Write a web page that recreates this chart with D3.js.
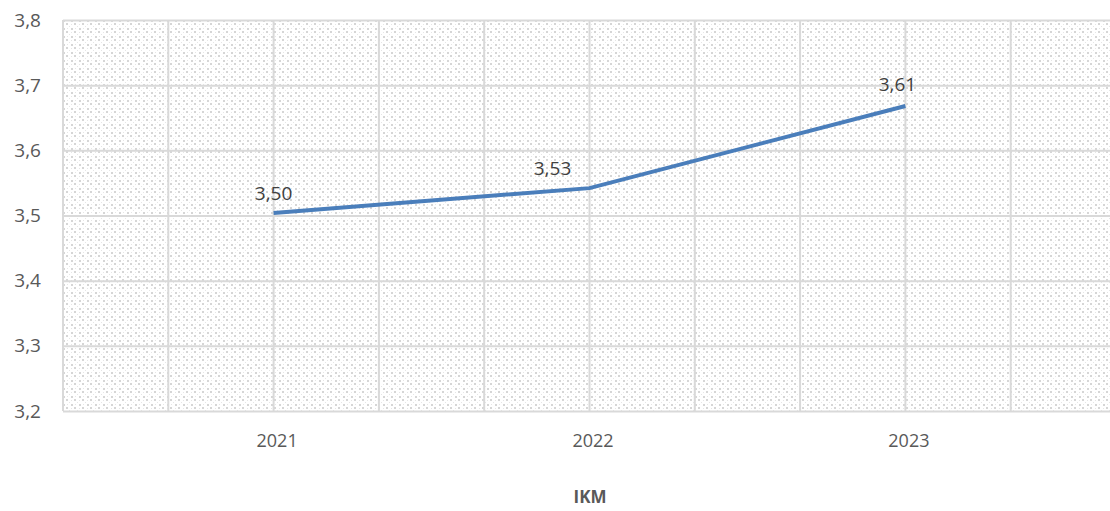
<!DOCTYPE html>
<html>
<head>
<meta charset="utf-8">
<script src="https://cdn.jsdelivr.net/npm/d3@7"></script>
<style>
  body { margin: 0; background: #fff; }
  text { font-family: "Open Sans", "Noto Sans", sans-serif; }
</style>
</head>
<body>
<script>
// data
var years = ["2021", "2022", "2023"];
var ikm = [3.504, 3.542, 3.668];
var ikmLabels = ["3,50", "3,53", "3,61"];
var yTicks = [3.2, 3.3, 3.4, 3.5, 3.6, 3.7, 3.8];

var W = 1110, H = 511;
var margin = { top: 20, right: -6, bottom: 100, left: 63 },
  width = W - margin.left - margin.right,
  height = H - margin.top - margin.bottom;

var svg = d3.select("body").append("svg")
  .attr("width", W)
  .attr("height", H);

// dotted diagonal fill like the excel pattern
var pat = svg.append("defs").append("pattern")
  .attr("id", "dots")
  .attr("patternUnits", "userSpaceOnUse")
  .attr("width", 8).attr("height", 8);
pat.append("rect").attr("width", 8).attr("height", 8).attr("fill", "#fff");
[[0, 0], [3, 3]].forEach(function (p) {
  pat.append("rect")
    .attr("x", p[0]).attr("y", p[1])
    .attr("width", 2).attr("height", 2)
    .attr("fill", "#d6d6d6");
});
[[6, 6], [4, 0], [0, 4]].forEach(function (p) {
  pat.append("rect")
    .attr("x", p[0]).attr("y", p[1])
    .attr("width", 1).attr("height", 1)
    .attr("fill", "#e6e6e6");
});

var g = svg.append("g")
  .attr("transform", "translate(" + margin.left + "," + margin.top + ")");

// category index scale, gridlines every third of a category
var x = d3.scaleLinear().domain([-2 / 3, years.length - 1 + 2 / 3]).range([0, width]);
var y = d3.scaleLinear().domain([3.2, 3.8]).range([height, 0]);

g.append("rect")
  .attr("width", width).attr("height", height)
  .attr("fill", "url(#dots)");

var vGrid = d3.range(0, 11).map(function (i) { return -2 / 3 + i / 3; });
g.selectAll(".vgrid")
  .data(vGrid)
  .enter().append("line")
  .attr("class", "vgrid")
  .attr("x1", function (d) { return x(d); })
  .attr("x2", function (d) { return x(d); })
  .attr("y1", 0).attr("y2", height)
  .attr("stroke", "#d9d9d9").attr("stroke-width", 2);

var yAxis = d3.axisLeft(y).tickValues(yTicks)
  .tickSize(-width)
  .tickFormat(function (d) { return d3.format(".1f")(d).replace(".", ","); });

var ya = g.append("g").call(yAxis);
ya.select(".domain").remove();
ya.selectAll(".tick line").attr("stroke", "#d9d9d9").attr("stroke-width", 2);
ya.selectAll(".tick text")
  .attr("x", -22)
  .attr("fill", "#595959")
  .style("font-size", "19px");

var xAxis = d3.axisBottom(x)
  .tickValues(d3.range(years.length))
  .tickSize(0)
  .tickFormat(function (d) { return years[d]; });

var xa = g.append("g")
  .attr("transform", "translate(0," + height + ")")
  .call(xAxis);
xa.select(".domain").remove();
xa.selectAll(".tick text")
  .attr("dy", 0)
  .attr("y", 36)
  .attr("dx", 3)
  .attr("fill", "#595959")
  .style("font-size", "18px");

// the line
var line = d3.line()
  .x(function (d, i) { return x(i); })
  .y(function (d) { return y(d); });

g.append("path")
  .datum(ikm)
  .attr("d", line)
  .attr("fill", "none")
  .attr("stroke", "#4a7ebb")
  .attr("stroke-width", 4)
  .attr("stroke-linecap", "butt");

// data labels, nudged like the original
var nudge = [[0, -13], [-37, -13], [-8, -15]];
g.selectAll(".lbl")
  .data(ikm)
  .enter().append("text")
  .attr("class", "lbl")
  .attr("x", function (d, i) { return x(i) + nudge[i][0]; })
  .attr("y", function (d, i) { return y(d) + nudge[i][1]; })
  .attr("text-anchor", "middle")
  .attr("fill", "#404040")
  .style("font-size", "19px")
  .text(function (d, i) { return ikmLabels[i]; });

svg.append("text")
  .attr("x", 590).attr("y", 503)
  .attr("text-anchor", "middle")
  .attr("fill", "#595959")
  .style("font-size", "17px")
  .style("font-weight", "bold")
  .text("IKM");
</script>
</body>
</html>
